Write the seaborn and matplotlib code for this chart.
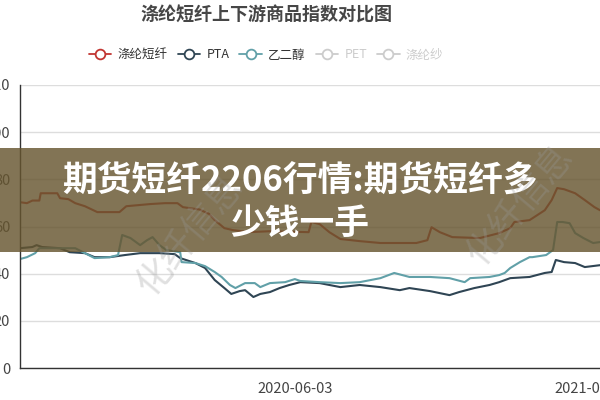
import pandas as pd
import matplotlib.pyplot as plt
import seaborn as sns
from matplotlib.lines import Line2D
from matplotlib.patches import Rectangle

# 涤纶短纤
fiber_dates = ['2019-11-17', '2019-11-22', '2019-11-26', '2019-12-01', '2019-12-02', '2019-12-14',
               '2019-12-16', '2019-12-22', '2019-12-27', '2020-01-03', '2020-01-12', '2020-01-28',
               '2020-02-02', '2020-02-19', '2020-03-01', '2020-03-10', '2020-03-14', '2020-03-26',
               '2020-04-02', '2020-04-06', '2020-04-13', '2020-04-19', '2020-05-01', '2020-05-16',
               '2020-06-13', '2020-06-15', '2020-06-21', '2020-06-28', '2020-07-06', '2020-07-20',
               '2020-08-04', '2020-08-30', '2020-09-07', '2020-09-10', '2020-09-16', '2020-09-25',
               '2020-10-15', '2020-10-29', '2020-11-06', '2020-11-09', '2020-11-20', '2020-12-01',
               '2020-12-06', '2020-12-10', '2020-12-15', '2020-12-23', '2020-12-30', '2021-01-06',
               '2021-01-10']
fiber_vals = [70.3, 69.9, 71.0, 71.0, 74.1, 74.1,
              72.0, 71.6, 69.9, 68.6, 66.1, 66.1,
              68.6, 69.5, 69.9, 69.9, 68.2, 67.2,
              65.3, 62.7, 59.3, 58.5, 57.6, 58.0,
              57.6, 61.9, 61.0, 57.6, 54.7, 53.8,
              53.0, 53.0, 54.2, 59.7, 57.6, 55.5,
              55.1, 57.2, 59.3, 61.9, 62.7, 66.9,
              71.2, 76.3, 75.8, 74.1, 71.2, 68.2,
              66.9]

# PTA
pta_dates = ['2019-11-17', '2019-11-26', '2019-11-29', '2019-12-03', '2019-12-16', '2019-12-23',
             '2020-01-03', '2020-01-10', '2020-01-21', '2020-02-01', '2020-02-12', '2020-02-26',
             '2020-03-08', '2020-03-12', '2020-03-23', '2020-03-30', '2020-04-06', '2020-04-13',
             '2020-04-18', '2020-04-24', '2020-04-28', '2020-05-04', '2020-05-09', '2020-05-16',
             '2020-05-23', '2020-05-30', '2020-06-07', '2020-06-21', '2020-07-06', '2020-07-20',
             '2020-08-04', '2020-08-18', '2020-08-25', '2020-09-09', '2020-09-23', '2020-09-30',
             '2020-10-11', '2020-10-22', '2020-10-29', '2020-11-06', '2020-11-20', '2020-12-01',
             '2020-12-06', '2020-12-09', '2020-12-15', '2020-12-23', '2020-12-30', '2021-01-10']
pta_vals = [50.8, 51.3, 52.1, 51.3, 50.8, 49.1,
            48.7, 47.0, 47.0, 47.9, 48.7, 48.7,
            48.3, 46.6, 44.5, 42.4, 37.3, 33.9,
            31.4, 32.6, 33.0, 30.1, 31.4, 32.2,
            33.9, 35.2, 36.4, 36.0, 34.3, 35.2,
            34.3, 33.0, 33.9, 32.6, 30.9, 32.2,
            33.9, 35.2, 36.4, 38.1, 38.6, 40.3,
            40.7, 45.8, 44.9, 44.5, 42.8, 43.6]

# 乙二醇
meg_dates = ['2019-11-17', '2019-11-22', '2019-11-28', '2019-12-01', '2019-12-27', '2020-01-03',
             '2020-01-10', '2020-01-21', '2020-01-27', '2020-01-30', '2020-02-05', '2020-02-12',
             '2020-02-17', '2020-02-21', '2020-02-26', '2020-03-02', '2020-03-12', '2020-03-13',
             '2020-03-23', '2020-03-30', '2020-04-06', '2020-04-11', '2020-04-17', '2020-04-21',
             '2020-04-28', '2020-05-05', '2020-05-09', '2020-05-16', '2020-05-27', '2020-06-03',
             '2020-06-07', '2020-06-21', '2020-07-06', '2020-07-20', '2020-08-04', '2020-08-14',
             '2020-08-25', '2020-09-09', '2020-09-23', '2020-10-04', '2020-10-08', '2020-10-22',
             '2020-10-29', '2020-11-02', '2020-11-06', '2020-11-13', '2020-11-20', '2020-11-22',
             '2020-12-02', '2020-12-07', '2020-12-10', '2020-12-14', '2020-12-19', '2020-12-23',
             '2020-12-29', '2021-01-05', '2021-01-10']
meg_vals = [46.2, 47.0, 48.7, 50.8, 50.8, 48.7,
            46.6, 47.0, 47.9, 56.4, 55.1, 52.1,
            54.2, 55.5, 52.1, 50.0, 49.1, 44.9,
            44.5, 43.2, 40.7, 38.6, 35.2, 33.9,
            36.0, 36.0, 34.3, 36.0, 36.4, 37.7,
            36.9, 36.4, 36.0, 36.4, 38.1, 40.3,
            38.6, 38.6, 38.1, 36.4, 38.1, 38.6,
            39.4, 40.3, 42.4, 44.9, 47.0, 47.0,
            47.9, 50.0, 61.9, 61.9, 61.4, 57.2,
            55.1, 53.0, 53.4]

series_names = ['涤纶短纤', 'PTA', '乙二醇', 'PET', '涤纶纱']
colors = ['#c23531', '#2f4554', '#61a0a8', '#cccccc', '#cccccc']
x_ticks = ['2020-06-03', '2021-01-04']
y_ticks = [0, 20, 40, 60, 80, 100, 120]

df = pd.concat([
    pd.DataFrame({'date': pd.to_datetime(fiber_dates), 'value': fiber_vals, 'series': '涤纶短纤'}),
    pd.DataFrame({'date': pd.to_datetime(pta_dates), 'value': pta_vals, 'series': 'PTA'}),
    pd.DataFrame({'date': pd.to_datetime(meg_dates), 'value': meg_vals, 'series': '乙二醇'}),
])

sns.set_style('white')
plt.rcParams['font.family'] = ['Noto Sans CJK SC', 'DejaVu Sans']

fig = plt.figure(figsize=(6, 4), dpi=100)
ax = fig.add_axes([20 / 600, 32 / 400, 1 - 20 / 600, 283 / 400])

sns.lineplot(data=df, x='date', y='value', hue='series', hue_order=series_names[:3],
             palette=colors[:3], linewidth=1.5, legend=False, ax=ax)

ax.set_xlim(pd.Timestamp('2019-11-17'), pd.Timestamp('2021-01-10'))
ax.set_ylim(0, 120)
ax.set_yticks(y_ticks)
ax.set_yticklabels([str(v) for v in y_ticks])
ax.set_xticks(pd.to_datetime(x_ticks))
ax.set_xticklabels(x_ticks)
ax.set_xlabel('')
ax.set_ylabel('')
ax.yaxis.grid(True, color='#dddddd', linewidth=1)
ax.xaxis.grid(False)
for s in ['top', 'right']:
    ax.spines[s].set_visible(False)
for s in ['left', 'bottom']:
    ax.spines[s].set_color('#333333')
    ax.spines[s].set_linewidth(1)
ax.tick_params(axis='both', colors='#333333', labelcolor='#444444', labelsize=10.5,
               length=6, width=1, direction='out')
ax.tick_params(axis='y', pad=1)
ax.tick_params(axis='x', pad=4)

# title and legend
fig.text(266 / 600, 1 - 15 / 400, '涤纶短纤上下游商品指数对比图', ha='center', va='center',
         fontsize=13, fontweight='bold', color='#464646')
handles = [Line2D([], [], color=c, lw=1.3, marker='o', markersize=7, markerfacecolor='white',
                  markeredgewidth=1.3) for c in colors]
leg = fig.legend(handles, series_names, ncol=5, loc='center', bbox_to_anchor=(266 / 600, 1 - 55 / 400),
                 frameon=False, fontsize=9, handlelength=1.8, columnspacing=0.8, handletextpad=0.5)
for t, c in zip(leg.get_texts(), ['#333333', '#333333', '#333333', '#cccccc', '#cccccc']):
    t.set_color(c)

# banner overlay
fig.patches.append(Rectangle((0, 1 - 252 / 400), 1, 104 / 400, transform=fig.transFigure,
                             facecolor='#66552f', alpha=0.82, edgecolor='none', zorder=5))
fig.text(0.5, 1 - 180 / 400, '期货短纤2206行情:期货短纤多', ha='center', va='center',
         fontsize=25, fontweight='bold', color='white', zorder=6)
fig.text(0.5, 1 - 223 / 400, '少钱一手', ha='center', va='center',
         fontsize=25, fontweight='bold', color='white', zorder=6)

# watermark
for wx, wy in [(190, 235), (520, 205)]:
    fig.text(wx / 600, 1 - wy / 400, '化纤信息', ha='center', va='center', rotation=50,
             fontsize=26, fontweight='light', color='#999999', alpha=0.3, zorder=7)

fig.savefig('out.png', dpi=100)
